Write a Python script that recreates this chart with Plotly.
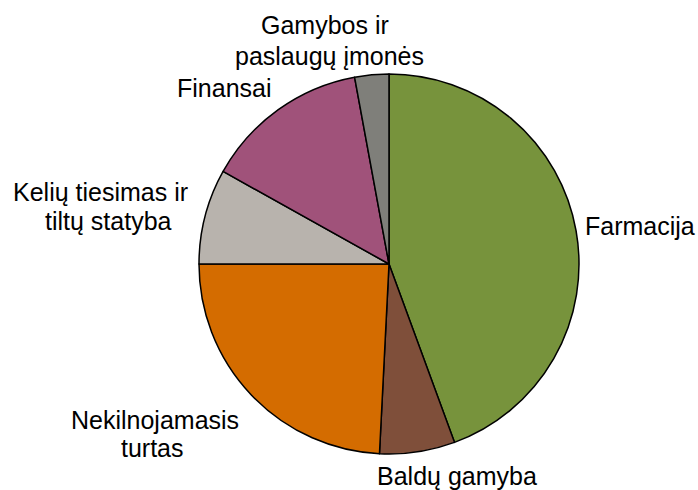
import plotly.graph_objects as go

labels = ["Farmacija", "Baldų gamyba", "Nekilnojamasis turtas",
          "Kelių tiesimas ir tiltų statyba", "Finansai",
          "Gamybos ir paslaugų įmonės"]
values = [44.4, 6.4, 24.2, 8.1, 14.0, 2.9]
colors = ["#77933C", "#7F4F3A", "#D46C00", "#B8B3AD", "#A0527A", "#7F7F7A"]

# label text lines and their pixel centers (x, y from top)
label_lines = [
    ["Farmacija"],
    ["Baldų gamyba"],
    ["Nekilnojamasis", "turtas"],
    ["Kelių tiesimas ir", "tiltų statyba"],
    ["Finansai"],
    ["Gamybos ir", "paslaugų įmonės"],
]
label_pos = [
    [(640, 226)],
    [(457, 476)],
    [(155, 420), (152, 448)],
    [(101, 192), (108, 221)],
    [(224, 88)],
    [(325, 25), (329, 56)],
]

W, H = 698, 490
cx, cy, r = 389, 264, 190

fig = go.Figure(go.Pie(
    labels=labels, values=values, sort=False, direction="clockwise",
    rotation=0, textinfo="none", hoverinfo="label+percent",
    marker=dict(colors=colors, line=dict(color="black", width=1.5)),
    domain=dict(x=[(cx - r) / W, (cx + r) / W],
                y=[1 - (cy + r) / H, 1 - (cy - r) / H]),
    showlegend=False,
))

anns = []
for lines, poss in zip(label_lines, label_pos):
    for t, (x, y) in zip(lines, poss):
        anns.append(dict(text=t, x=x / W, y=1 - y / H, xref="paper", yref="paper",
                         showarrow=False, xanchor="center", yanchor="middle",
                         font=dict(family="Liberation Sans, Arial", size=25, color="black")))

fig.update_layout(width=W, height=H, margin=dict(l=0, r=0, t=0, b=0),
                  paper_bgcolor="white", plot_bgcolor="white", annotations=anns)
fig.write_html("out.html", config={"displayModeBar": False},
               post_script="document.body.style.margin='0';")
